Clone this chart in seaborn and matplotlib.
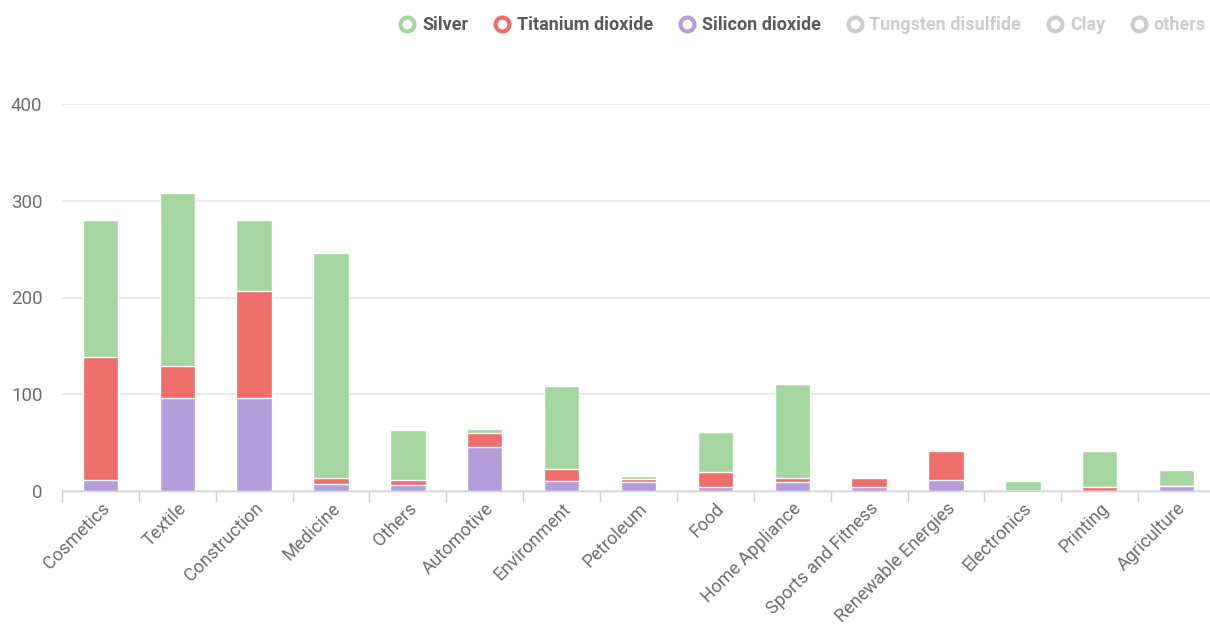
import numpy as np
import pandas as pd
import matplotlib
matplotlib.use('Agg')
import matplotlib.pyplot as plt
import seaborn as sns
from matplotlib.lines import Line2D

categories = ['Cosmetics', 'Textile', 'Construction', 'Medicine', 'Others', 'Automotive',
              'Environment', 'Petroleum', 'Food', 'Home Appliance', 'Sports and Fitness',
              'Renewable Energies', 'Electronics', 'Printing', 'Agriculture']
silicon = [11, 96, 96, 7, 6, 45, 10, 9, 4, 9, 4, 11, 0, 0, 5]
titanium = [127, 33, 111, 6, 5, 15, 13, 3, 16, 4, 9, 30, 0, 4, 0]
silver = [142, 179, 73, 233, 52, 4, 86, 4, 41, 98, 0, 0, 10, 37, 17]

legend_names = ['Silver', 'Titanium dioxide', 'Silicon dioxide', 'Tungsten disulfide', 'Clay', 'others']
legend_visible = [True, True, True, False, False, False]
yticks = [0, 100, 200, 300, 400]

green = '#a5d6a1'
red = '#ee6e6c'
purple = '#b39ddb'
hidden = '#cccccc'

df = pd.DataFrame({'category': categories, 'silicon': silicon,
                   'titanium': titanium, 'silver': silver})
df['lvl2'] = df['silicon'] + df['titanium']
df['lvl3'] = df['lvl2'] + df['silver']

sns.set_theme(style='white')
plt.rcParams['font.family'] = ['Roboto', 'DejaVu Sans']

fig = plt.figure(figsize=(12.1, 6.3), dpi=100)
# the plot area runs a few pixels past the right edge, as in the cropped original
ax = fig.add_axes([62 / 1210, 1 - 491 / 630, (1215 - 62) / 1210, (491 - 104) / 630])

bar_kw = dict(x='category', width=0.46, edgecolor='white', linewidth=1,
              saturation=1, errorbar=None, ax=ax, order=categories)
sns.barplot(data=df, y='lvl3', color=green, **bar_kw)
sns.barplot(data=df, y='lvl2', color=red, **bar_kw)
sns.barplot(data=df, y='silicon', color=purple, **bar_kw)

ax.set_xlim(-0.5, 14.5)
ax.set_ylim(0, 400)
ax.set_yticks(yticks)
ax.yaxis.grid(True, color='#e6e6e6', linewidth=1.2)
ax.set_axisbelow(True)
ax.set_xlabel('')
ax.set_ylabel('')
for s in ['top', 'right', 'left']:
    ax.spines[s].set_visible(False)
ax.spines['bottom'].set_color('#d3d3d3')
ax.spines['bottom'].set_linewidth(1)

ax.tick_params(axis='y', length=0, pad=14, labelsize=13.5, labelcolor='#6e6e6e')
ax.tick_params(axis='x', which='major', length=0, pad=6, labelsize=13, labelcolor='#6e6e6e')
ax.set_xticks(range(len(categories)))
ax.set_xticklabels(categories, rotation=45, ha='right', rotation_mode='anchor')
ax.set_xticks(np.arange(-0.5, len(categories), 1.0), minor=True)
ax.tick_params(axis='x', which='minor', length=8, width=1, color='#d3d3d3', bottom=True)

handles = []
colors = [green, red, purple, hidden, hidden, hidden]
for c in colors:
    handles.append(Line2D([], [], marker='o', linestyle='', markersize=10,
                          markerfacecolor='white', markeredgecolor=c, markeredgewidth=3))
leg = fig.legend(handles, legend_names, loc='upper left', ncol=6,
                 bbox_to_anchor=(384 / 1210, 1), frameon=False,
                 handlelength=0.8, handletextpad=0.4, columnspacing=1.5,
                 prop={'size': 13, 'weight': 'bold'})
for txt, vis in zip(leg.get_texts(), legend_visible):
    txt.set_color('#5a5a5a' if vis else hidden)

fig.savefig('out.png', dpi=100)
